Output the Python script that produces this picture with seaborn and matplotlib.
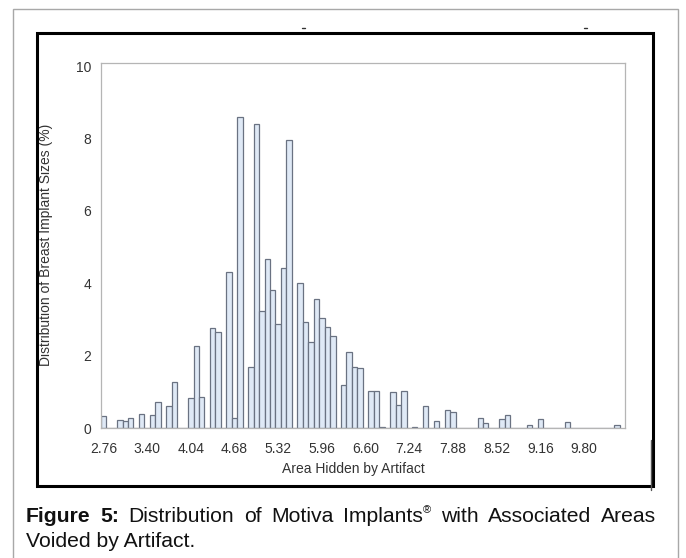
import numpy as np
import pandas as pd
import matplotlib
matplotlib.use('Agg')
import matplotlib.pyplot as plt
import seaborn as sns
from matplotlib.patches import Rectangle
from matplotlib.lines import Line2D

# bin midpoints (only the non-empty bins) and their share in percent
area = [2.76, 3.00, 3.08, 3.16, 3.32, 3.48, 3.56, 3.72, 3.80, 4.04,
        4.12, 4.20, 4.36, 4.44, 4.60, 4.68, 4.76, 4.92, 5.00, 5.08,
        5.16, 5.24, 5.32, 5.40, 5.48, 5.64, 5.72, 5.80, 5.88, 5.96,
        6.04, 6.12, 6.28, 6.36, 6.44, 6.52, 6.68, 6.76, 6.84, 7.00,
        7.08, 7.16, 7.32, 7.48, 7.64, 7.80, 7.88, 8.28, 8.36, 8.60,
        8.68, 9.00, 9.16, 9.56, 10.28]
pct = [0.32, 0.23, 0.19, 0.28, 0.39, 0.37, 0.72, 0.60, 1.28, 0.84,
       2.27, 0.86, 2.77, 2.66, 4.30, 0.28, 8.61, 1.70, 8.41, 3.23,
       4.67, 3.82, 2.88, 4.41, 7.96, 4.00, 2.92, 2.38, 3.56, 3.03,
       2.79, 2.53, 1.20, 2.10, 1.70, 1.65, 1.01, 1.01, 0.04, 0.99,
       0.63, 1.03, 0.02, 0.60, 0.19, 0.51, 0.43, 0.29, 0.14, 0.26,
       0.35, 0.09, 0.26, 0.16, 0.07]

x_ticks = [2.76, 3.40, 4.04, 4.68, 5.32, 5.96, 6.60, 7.24, 7.88, 8.52, 9.16, 9.80]
y_ticks = [0, 2, 4, 6, 8, 10]

df = pd.DataFrame({'area': area, 'pct': pct})

sns.set_style('white')
plt.rcParams['font.family'] = ['Liberation Sans', 'DejaVu Sans']

W, H = 686, 558
fig = plt.figure(figsize=(W / 100, H / 100), dpi=100)


def fx(px):
    return px / W


def fy(py):
    return 1 - py / H


ax = fig.add_axes([fx(100.7), fy(428), fx(625) - fx(100.7), fy(62.7) - fy(428)])
sns.histplot(data=df, x='area', weights='pct', binwidth=0.08, binrange=(2.72, 10.32),
             color='#dfe9f6', edgecolor='#6a7282', linewidth=0.9, alpha=1, ax=ax)

ax.set_xlim(2.72, 10.40)
ax.set_ylim(0, 10.1)
ax.set_xticks(x_ticks)
ax.set_xticklabels([f'{v:.2f}' for v in x_ticks])
ax.set_yticks(y_ticks)
ax.tick_params(axis='both', direction='out', length=4, width=0.8, color='#9a9a9a',
               labelsize=10, labelcolor='#333333')
ax.tick_params(axis='x', pad=6)
ax.tick_params(axis='y', pad=3)
for s in ax.spines.values():
    s.set_color('#b5b5b5')
    s.set_linewidth(0.9)

ax.set_xlabel('Area Hidden by Artifact', fontsize=10, color='#333333')
ax.set_ylabel('Distribution of Breast Implant Sizes (%)', fontsize=10, color='#333333')
ax.xaxis.set_label_coords(0.481, -0.094)
ax.yaxis.set_label_coords(-0.091, 0.5)

# outer light border and the black frame around the graph
fig.add_artist(Rectangle((fx(12.7), fy(560)), fx(678) - fx(12.7), fy(8.8) - fy(560),
                         transform=fig.transFigure, fill=False, edgecolor='#a8a8a8', linewidth=1))
fig.add_artist(Rectangle((fx(37), fy(486)), fx(653) - fx(37), fy(33) - fy(486),
                         transform=fig.transFigure, fill=False, edgecolor='black', linewidth=2.2))
fig.add_artist(Line2D([fx(651), fx(651)], [fy(440), fy(490)], transform=fig.transFigure,
                      color='#555555', linewidth=1))
for px in (303, 585):
    fig.add_artist(Line2D([fx(px - 1.5), fx(px + 1.5)], [fy(27.5), fy(27.5)],
                          transform=fig.transFigure, color='#333333', linewidth=1))

# justified caption
words = [('Figure', 'bold'), ('5:', 'bold'), ('Distribution', 'normal'), ('of', 'normal'),
         ('Motiva', 'normal'), ('Implants', 'normal'), ('with', 'normal'),
         ('Associated', 'normal'), ('Areas', 'normal')]
renderer = fig.canvas.get_renderer()
texts = []
widths = []
for w, wt in words:
    t = fig.text(0, fy(516), w, fontsize=15.2, fontweight=wt, va='center', ha='left', color='#111111')
    texts.append(t)
    wd = t.get_window_extent(renderer).width
    if w == 'Implants':
        wd += 9
    widths.append(wd)
x0, x1 = 26, 656
gap = (x1 - x0 - sum(widths)) / (len(words) - 1)
xp = x0
for t, w, wd in zip(texts, words, widths):
    t.set_x(fx(xp))
    if w[0] == 'Implants':
        fig.text(fx(xp + wd - 9), fy(510), '®', fontsize=8, va='center', ha='left', color='#111111')
    xp += wd + gap
fig.text(fx(x0), fy(541.5), 'Voided by Artifact.', fontsize=15.2, va='center', ha='left', color='#111111')

fig.savefig('out.png', dpi=100)
